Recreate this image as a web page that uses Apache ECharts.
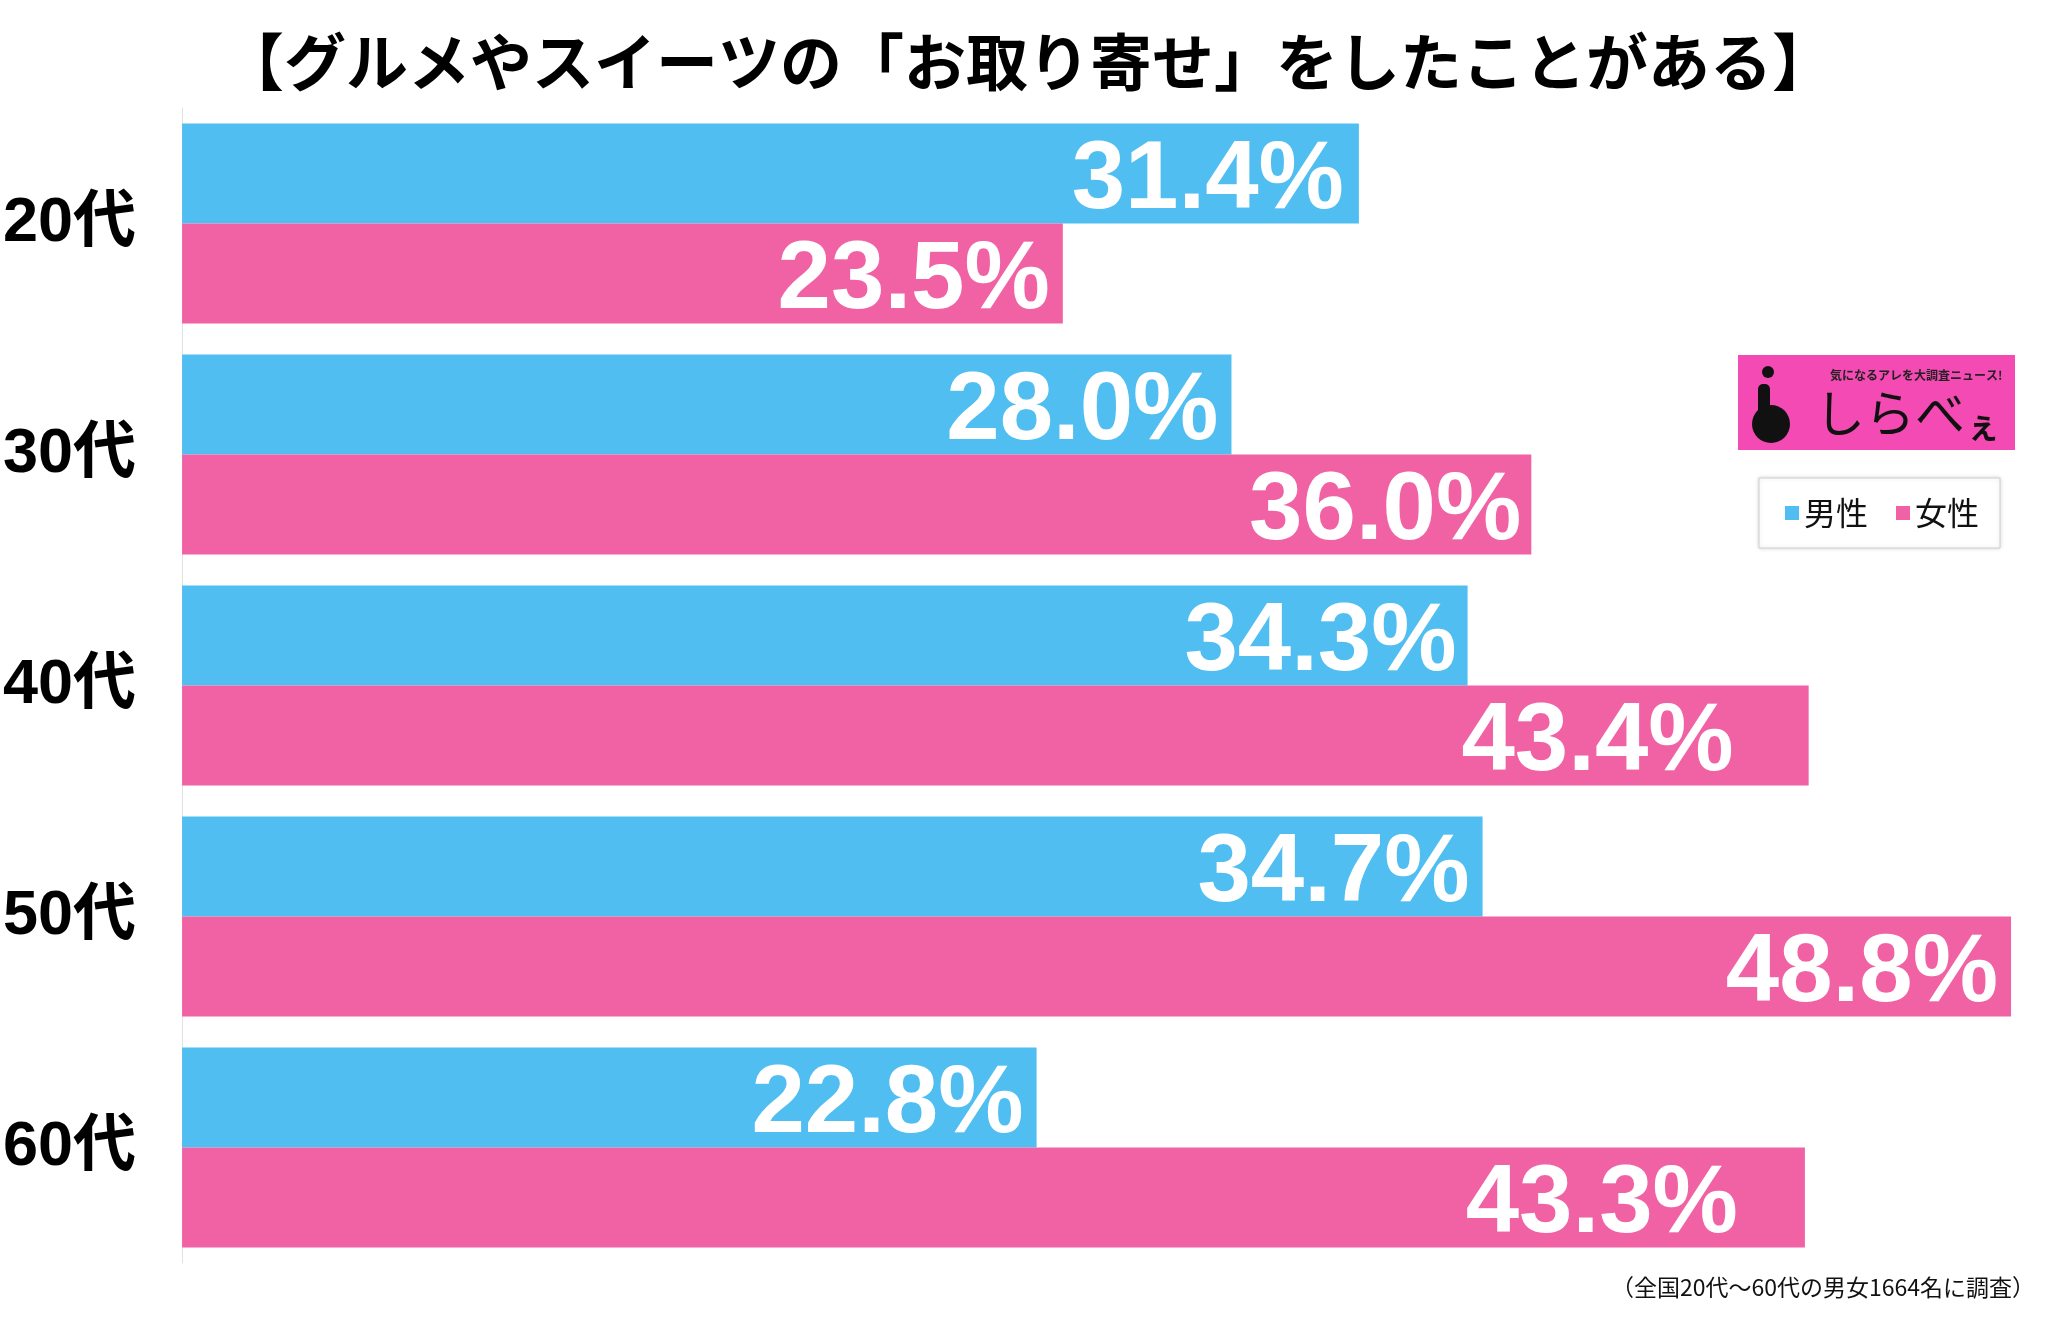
<!DOCTYPE html>
<html>
<head>
<meta charset="utf-8">
<script src="https://cdn.jsdelivr.net/npm/echarts@6/dist/echarts.min.js"></script>
<style>
html,body{margin:0;padding:0;background:#fff;}
#chart{width:2056px;height:1319px;}
</style>
</head>
<body>
<div id="chart"></div>
<script>
const titleText = '【グルメやスイーツの「お取り寄せ」をしたことがある】';
const categories = ['20代', '30代', '40代', '50代', '60代'];
const seriesNames = ['男性', '女性'];
const maleValues = [31.4, 28.0, 34.3, 34.7, 22.8];
const femaleValues = [23.5, 36.0, 43.4, 48.8, 43.3];
const footnote = '（全国20代～60代の男女1664名に調査）';

// label gap from bar end (style, kept separate from the data)
const maleLabelGap = [15, 13, 11, 13, 13];
const femaleLabelGap = [13, 10, 75, 13, 67];

const BLUE = '#50BEF1';
const PINK = '#F062A4';
const LATIN = '"Liberation Sans", "Noto Sans CJK JP", sans-serif';
const CJK = '"Noto Sans CJK JP", sans-serif';

const chart = echarts.init(document.getElementById('chart'), null, {renderer: 'canvas'});

const labelCfg = {
  show: true,
  position: 'insideRight',
  distance: 13,
  offset: [0, 8],
  color: '#fff',
  fontSize: 96,
  fontWeight: 'bold',
  fontFamily: LATIN,
  formatter: p => p.value.toFixed(1) + '%'
};

function build(values, gaps) {
  return values.map((v, i) => ({value: v, label: {distance: gaps[i]}}));
}

chart.setOption({
  backgroundColor: '#fff',
  animation: false,
  title: {
    text: titleText,
    left: 'center',
    top: 31,
    padding: 0,
    textStyle: {fontSize: 62, fontWeight: 'bold', fontFamily: CJK, color: '#000'}
  },
  legend: {
    data: seriesNames,
    left: 1759,
    top: 478,
    orient: 'horizontal',
    icon: 'rect',
    itemWidth: 14,
    itemHeight: 14,
    itemGap: 28,
    padding: [19, 21, 19, 26],
    borderColor: '#cfcfcf',
    borderWidth: 1,
    backgroundColor: '#fff',
    shadowBlur: 4,
    shadowColor: 'rgba(0,0,0,0.15)',
    textStyle: {fontSize: 32, fontFamily: CJK, color: '#111'}
  },
  grid: {left: 181, top: 108, width: 1875, height: 1155, containLabel: false},
  xAxis: {
    type: 'value', min: 0, max: 50, show: false
  },
  yAxis: {
    type: 'category',
    data: categories,
    inverse: true,
    axisLine: {show: true, lineStyle: {color: '#e2e2e2', width: 1}},
    axisTick: {show: false},
    splitLine: {show: false},
    axisLabel: {
      margin: 46,
      fontSize: 63,
      fontWeight: 'bold',
      fontFamily: LATIN,
      color: '#000',
      padding: [10, 0, 0, 0]
    }
  },
  series: [
    {name: seriesNames[0], type: 'bar', data: build(maleValues, maleLabelGap), barWidth: 100, barGap: '0%',
     itemStyle: {color: BLUE}, label: labelCfg},
    {name: seriesNames[1], type: 'bar', data: build(femaleValues, femaleLabelGap), barWidth: 100, barGap: '0%',
     itemStyle: {color: PINK}, label: labelCfg}
  ],
  graphic: [
    {type: 'rect', shape: {x: 1738, y: 355, width: 277, height: 95}, style: {fill: '#F34AB3'}},
    {type: 'circle', shape: {cx: 1768, cy: 372, r: 6}, style: {fill: '#111'}},
    {type: 'rect', shape: {x: 1758, y: 384, width: 12, height: 34, r: 5}, style: {fill: '#111'}},
    {type: 'circle', shape: {cx: 1771, cy: 424, r: 19}, style: {fill: '#111'}},
    {type: 'text', left: 1830, top: 369, style: {text: '気になるアレを大調査ニュース!', fontSize: 12, fontWeight: 'bold', fontFamily: CJK, fill: '#222'}},
    {type: 'text', left: 1815, top: 388, style: {text: 'しらべ', fontSize: 50, fontFamily: CJK, fill: '#111'}},
    {type: 'text', left: 1966, top: 408, style: {text: 'ぇ', fontSize: 34, fontFamily: CJK, fontWeight: 'bold', fill: '#111'}},
    {type: 'text', right: 21, top: 1276, style: {text: footnote, fontSize: 23, fontFamily: CJK, fill: '#111'}}
  ]
});
</script>
</body>
</html>
